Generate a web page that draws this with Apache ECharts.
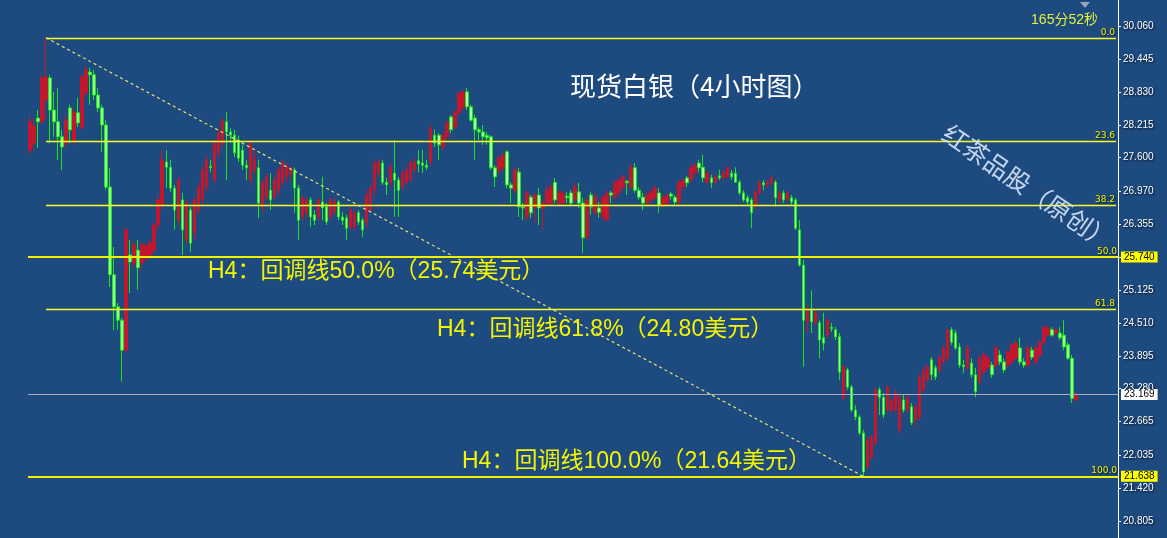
<!DOCTYPE html>
<html>
<head>
<meta charset="utf-8">
<script src="https://cdn.jsdelivr.net/npm/echarts@6/dist/echarts.min.js"></script>
<style>
html,body{margin:0;padding:0;background:#1d4a7f;}
#chart{width:1167px;height:538px;}
</style>
</head>
<body>
<div id="chart"></div>
<script>
// ---- data (4H silver candles) ----
const opens = [
27.74,27.87,28.34,28.27,28.68,29.09,28.49,28.27,27.99,27.87,
28.53,27.89,28.44,28.17,28.81,29.20,29.15,28.77,28.53,28.21,
27.05,25.41,24.81,24.56,24.00,25.78,25.63,25.87,25.63,25.72,
25.78,25.87,26.34,26.71,27.52,27.42,27.03,26.43,26.81,26.06,
26.62,26.19,26.62,26.81,27.05,27.44,27.18,27.69,27.87,28.27,
28.08,28.02,27.93,27.74,27.46,27.18,27.37,27.41,26.68,26.86,
26.99,26.86,26.99,27.13,27.24,27.28,27.37,27.03,26.49,26.57,
26.81,26.53,26.49,26.77,26.68,26.49,26.58,26.77,26.49,26.47,
26.30,26.30,26.57,26.43,26.38,26.62,26.99,27.31,27.50,27.14,
27.13,27.31,27.18,27.05,27.14,27.18,27.37,27.54,27.50,27.46,
27.52,28.02,28.02,27.80,27.99,28.36,28.17,28.44,28.53,28.83,
28.55,28.34,28.12,28.08,28.02,27.99,27.41,27.37,27.41,27.71,
27.09,26.99,27.33,26.68,26.49,26.86,26.66,26.90,26.66,26.75,
26.75,27.14,26.75,26.75,26.88,26.94,26.81,26.96,26.75,26.12,
26.90,26.57,26.66,26.49,26.43,26.94,26.86,26.94,27.05,27.16,
27.05,27.41,26.99,26.86,26.75,26.81,26.85,26.94,26.71,26.75,
26.92,26.86,26.77,27.05,27.22,27.18,27.31,27.50,27.42,27.14,
27.22,27.14,27.26,27.22,27.24,27.31,27.31,27.14,26.94,26.85,
26.81,26.68,26.94,27.13,27.09,27.13,27.14,26.81,26.94,26.81,
26.85,26.81,26.25,25.59,24.53,24.75,24.51,24.51,24.23,24.28,
24.43,24.38,24.25,23.10,23.63,23.31,22.88,22.75,22.45,21.82,
22.00,22.26,23.26,23.12,22.88,22.88,22.88,22.51,23.07,22.88,
22.94,22.69,22.75,23.26,23.44,23.82,23.67,23.63,23.78,23.85,
24.38,24.32,24.06,23.72,23.67,23.76,23.54,23.41,23.59,23.67,
23.72,23.72,23.91,23.78,23.72,23.78,23.85,24.04,23.78,23.72,
24.00,23.78,23.91,24.15,24.28,24.38,24.32,24.32,24.28,24.10,
23.85,23.07
];
const closes = [
28.27,28.19,28.27,29.09,29.11,28.49,28.27,27.99,27.80,28.30,
28.12,28.45,28.25,29.11,29.24,29.15,28.77,28.53,28.21,27.05,
25.41,24.81,24.56,24.00,26.25,25.65,25.97,25.54,25.97,25.95,
26.00,26.34,26.81,27.56,27.42,27.03,26.62,27.18,26.25,26.75,
26.00,26.81,27.05,27.37,27.56,27.41,27.87,28.06,28.30,28.08,
28.02,27.69,27.59,27.46,27.41,27.87,27.59,26.75,27.13,27.24,
26.81,27.18,27.37,27.50,27.42,27.42,27.03,26.43,26.85,26.81,
26.49,26.43,26.81,26.66,26.40,26.81,26.77,26.49,26.43,26.28,
26.62,26.57,26.40,26.25,26.90,27.03,27.50,27.52,27.14,27.09,
27.42,27.18,26.99,27.31,27.37,27.50,27.52,27.48,27.46,27.42,
28.15,27.87,27.84,28.02,28.25,28.12,28.45,28.81,28.83,28.55,
28.30,28.12,28.08,27.99,27.97,27.41,27.24,27.59,27.65,27.09,
27.03,27.37,26.68,26.66,26.94,26.57,26.90,26.66,26.75,26.99,
27.05,26.81,26.94,26.94,26.85,26.75,27.05,26.75,26.10,26.81,
26.68,26.86,26.58,26.86,26.94,26.90,27.13,27.18,27.24,27.13,
27.42,26.99,26.86,26.75,26.90,26.96,27.03,26.71,26.86,26.90,
26.88,26.77,27.13,27.18,27.13,27.41,27.46,27.41,27.22,27.31,
27.13,27.24,27.22,27.33,27.41,27.24,27.14,26.94,26.81,26.77,
26.57,26.96,27.13,27.09,27.14,27.22,26.85,26.94,26.81,26.94,
26.77,26.28,25.59,24.56,24.75,24.53,24.70,24.19,24.13,24.56,
24.40,24.25,23.59,23.69,23.31,22.88,22.75,22.45,21.72,22.32,
22.38,23.26,23.12,22.79,23.31,23.07,23.20,23.12,22.88,23.12,
22.64,22.94,23.50,23.63,23.69,23.54,23.50,23.87,24.04,24.38,
24.15,24.04,23.72,23.69,24.04,23.54,23.22,23.85,23.91,23.85,
23.54,24.04,23.78,23.63,23.97,24.10,24.13,23.78,23.72,24.04,
23.87,24.04,24.15,24.43,24.41,24.28,24.38,24.23,24.06,23.85,
23.10,23.169
];
const lows = [
27.65,27.74,27.78,28.21,28.30,27.87,27.99,27.56,27.37,27.78,
27.87,27.84,28.17,28.12,28.73,28.59,28.68,28.45,27.71,27.00,
25.18,24.38,24.38,23.41,23.97,25.07,25.54,25.13,25.50,25.65,
25.69,25.78,26.25,26.62,27.03,26.96,26.25,26.34,25.78,25.97,
25.84,26.06,26.53,26.71,26.96,27.33,27.09,27.61,27.80,27.18,
27.89,27.61,27.52,27.37,27.18,27.09,27.28,26.47,26.58,26.81,
26.62,26.81,26.90,27.05,27.14,27.18,26.57,26.06,26.43,26.47,
26.30,26.34,26.43,26.43,26.34,26.43,26.53,26.43,26.34,26.06,
26.25,26.25,26.34,26.12,26.28,26.58,26.90,27.24,27.09,26.90,
27.05,26.49,26.49,26.99,27.09,27.13,27.31,27.33,27.31,27.37,
27.46,27.80,27.56,27.74,27.93,28.06,28.12,28.40,28.49,28.49,
28.27,27.56,27.93,27.84,27.84,27.37,27.05,27.28,27.33,27.03,
26.75,26.94,26.49,26.43,26.43,26.47,26.38,26.34,26.25,26.70,
26.71,26.75,26.70,26.70,26.75,26.71,26.75,26.66,25.82,26.06,
26.53,26.53,26.47,26.43,26.40,26.75,26.81,26.90,26.99,26.90,
26.99,26.94,26.81,26.62,26.71,26.75,26.81,26.57,26.66,26.71,
26.81,26.71,26.71,26.99,27.05,27.13,27.28,27.33,27.14,27.09,
27.03,27.09,27.18,27.18,27.22,27.18,27.13,26.90,26.77,26.71,
26.28,26.62,26.90,26.99,27.03,27.09,26.68,26.75,26.75,26.77,
26.71,26.25,25.56,23.69,24.32,24.32,24.47,23.85,24.00,24.23,
24.34,24.19,23.44,23.07,23.26,22.84,22.69,22.41,21.638,21.76,
21.95,22.21,22.79,22.73,22.83,22.84,22.83,22.45,22.83,22.83,
22.60,22.56,22.69,23.22,23.41,23.44,23.44,23.57,23.72,23.82,
24.10,24.00,23.67,23.57,23.63,23.48,23.12,23.35,23.54,23.63,
23.48,23.67,23.72,23.57,23.67,23.72,23.82,23.72,23.67,23.67,
23.82,23.72,23.85,24.10,24.25,24.25,24.28,24.19,24.00,23.82,
23.01,23.03
];
const highs = [
28.40,28.34,28.49,29.15,29.842,29.15,28.83,28.90,28.12,28.40,
28.59,28.53,28.72,29.15,29.31,29.28,29.24,28.90,28.59,28.30,
27.41,25.93,24.88,24.60,26.28,26.06,26.06,26.06,26.02,26.00,
26.06,26.40,26.90,27.74,27.74,27.56,27.09,27.24,26.94,26.81,
26.68,26.86,27.13,27.46,27.65,27.56,27.93,28.12,28.34,28.45,
28.15,28.12,28.01,27.84,27.56,27.93,27.74,27.56,27.18,27.31,
27.31,27.24,27.42,27.56,27.52,27.46,27.42,27.09,26.90,26.86,
26.86,26.62,26.86,27.24,26.75,26.86,26.85,26.81,26.58,26.53,
26.68,26.62,26.62,26.47,26.99,27.09,27.56,27.59,27.56,27.22,
27.50,27.93,27.24,27.37,27.42,27.56,27.59,27.74,27.74,27.56,
28.21,28.12,28.06,28.06,28.30,28.40,28.49,28.83,28.86,28.90,
28.59,28.40,28.17,28.21,28.08,28.02,27.46,27.65,27.71,27.74,
27.14,27.42,27.41,26.75,26.99,26.90,26.94,27.03,26.81,27.09,
27.13,27.22,26.99,26.99,26.96,26.99,27.13,27.13,26.85,26.86,
26.96,26.94,26.77,26.90,26.99,26.98,27.18,27.22,27.28,27.18,
27.50,27.50,27.05,26.94,26.96,27.03,27.09,27.03,26.90,26.94,
26.96,26.90,27.18,27.22,27.26,27.46,27.52,27.56,27.65,27.37,
27.28,27.28,27.37,27.37,27.46,27.37,27.42,27.18,26.99,26.90,
26.85,26.99,27.18,27.18,27.18,27.26,27.18,26.99,26.99,26.99,
26.90,26.85,26.43,25.69,24.84,25.12,24.75,24.56,24.70,24.62,
24.51,24.43,24.32,23.72,23.67,23.35,22.97,22.79,22.51,22.38,
22.41,23.29,23.31,23.20,23.35,23.10,23.26,23.16,23.16,23.16,
23.01,22.97,23.54,23.69,23.72,23.87,23.72,23.91,24.10,24.41,
24.43,24.38,24.13,23.82,24.10,23.85,23.67,23.91,23.97,23.91,
23.78,24.10,24.00,23.85,24.00,24.13,24.19,24.23,23.85,24.10,
24.06,24.10,24.19,24.47,24.47,24.43,24.41,24.43,24.56,24.15,
23.91,23.22
];
const tickValues = [30.060,29.445,28.830,28.215,27.600,26.970,26.355,25.740,25.125,24.510,23.895,23.280,22.665,22.035,21.420,20.805];
const fibLevels = [29.842,27.906,26.708,25.740,24.772,21.638];
const fibNames  = ['0.0','23.6','38.2','50.0','61.8','100.0'];
const boxedLevels = [25.740,21.638];
const lastPrice = 23.169;
const swingHighIndex = 4;
const swingLowIndex = 208;
const titleText = '现货白银（4小时图）';
const noteTexts = ['H4：回调线50.0%（25.74美元）','H4：回调线61.8%（24.80美元）','H4：回调线100.0%（21.64美元）'];
const watermarkText = '红茶品股（原创）';
const timerText = '165分52秒';

// ---- chart ----
const candles = opens.map((o, i) => [o, closes[i], lows[i], highs[i]]);
const Y_MIN = 20.487, Y_MAX = 30.548;
const EMPTY_SLOTS = 10;
const SLOT_COUNT = candles.length + EMPTY_SLOTS;
const slots = Array.from({length: SLOT_COUNT}, (_, i) => 'bar' + i);
const LAST_SLOT = SLOT_COUNT - 1;

const YELLOW = '#f2f200';
const shadow = {textShadowColor:'rgba(0,0,0,0.75)', textShadowBlur:2, textShadowOffsetX:1, textShadowOffsetY:1};

const markData = [];
fibLevels.forEach((lvl, k) => {
  const thick = (fibNames[k] === '50.0' || fibNames[k] === '100.0');
  const lab = {show:true, position:'insideEndTop', formatter: fibNames[k], color: YELLOW, fontSize:9,
               fontFamily:'DejaVu Sans', distance:[1,1], ...shadow};
  if (thick) {
    markData.push({yAxis: lvl, lineStyle:{color:YELLOW, width:2, type:'solid'}, label: lab});
  } else {
    markData.push([
      {coord:[swingHighIndex, lvl], lineStyle:{color:'#ffff20', width:1.4, type:'solid'}, label: lab},
      {coord:[LAST_SLOT, lvl]}
    ]);
  }
});
// trend line from swing high to swing low
markData.push([
  {coord:[swingHighIndex, highs[swingHighIndex]], lineStyle:{color:'#f8f070', width:1.1, type:[3,3]}, label:{show:false}},
  {coord:[swingLowIndex, lows[swingLowIndex]]}
]);
// current price line
markData.push({yAxis:lastPrice, lineStyle:{color:'#a7aebb', width:1, type:'solid'},
  label:{show:true, position:'end', distance:3, formatter: lastPrice.toFixed(3), color:'#000', backgroundColor:'#ffffff',
         padding:[1,3,0,3], fontSize:10, fontFamily:'Liberation Sans'}});
// boxed level prices on the axis
boxedLevels.forEach(v => {
  markData.push({yAxis:v, lineStyle:{color:YELLOW, width:2, type:'solid'},
    label:{show:true, position:'end', distance:3, formatter: v.toFixed(3), color:'#000', backgroundColor:'#ffff00',
           padding:[1,3,0,3], fontSize:10, fontFamily:'Liberation Sans'}});
});

const noteStyle = (t) => ({text:t, fill:'#f5f500', font:'23px "Liberation Sans","Noto Sans CJK SC"',
  verticalAlign:'middle', align:'left', shadowColor:'rgba(0,0,0,0.8)', shadowBlur:2, shadowOffsetX:2, shadowOffsetY:2});

const chart = echarts.init(document.getElementById('chart'), null, {renderer:'canvas'});
chart.setOption({
  animation:false,
  backgroundColor:'#1d4a7f',
  grid:{left:28, right:49, top:0, bottom:0},
  xAxis:{type:'category', data: slots, show:false, boundaryGap:true},
  yAxis:{
    type:'value', position:'right', min:Y_MIN, max:Y_MAX, scale:true,
    splitLine:{show:false},
    axisLine:{show:true, lineStyle:{color:'#ffffff', width:1}},
    axisTick:{show:true, customValues: tickValues, length:3, inside:false, lineStyle:{color:'#ffffff'}},
    axisLabel:{show:true, customValues: tickValues, formatter:(v)=>v.toFixed(3), color:'#ffffff',
               fontSize:10, fontFamily:'Liberation Sans', margin:5, ...shadow}
  },
  series:[{
    type:'candlestick',
    data:candles,
    barWidth:3,
    itemStyle:{color:'#c3162f', color0:'#a6ffa6', borderColor:'#c3162f', borderColor0:'#19e619', borderWidth:1},
    markLine:{silent:true, symbol:['none','none'], animation:false, data:markData}
  }],
  graphic:[
    {type:'text', x:570, y:86, z:10, style:{text:titleText, fill:'#ffffff', font:'26px "Noto Sans CJK SC"',
      verticalAlign:'middle', align:'left', shadowColor:'rgba(0,0,0,0.7)', shadowBlur:2, shadowOffsetX:1, shadowOffsetY:1}},
    {type:'text', x:208, y:272, z:10, style:noteStyle(noteTexts[0])},
    {type:'text', x:437, y:330, z:10, style:noteStyle(noteTexts[1])},
    {type:'text', x:462, y:462, z:10, style:noteStyle(noteTexts[2])},
    {type:'text', x:1028, y:187, rotation:-0.6, z:10, style:{text:watermarkText, fill:'rgba(215,230,250,0.9)',
      font:'25px "Noto Sans CJK SC"', align:'center', verticalAlign:'middle',
      shadowColor:'rgba(0,0,0,0.8)', shadowBlur:3, shadowOffsetX:2, shadowOffsetY:2}},
    {type:'text', x:1098, y:20, z:10, style:{text:timerText, fill:'#e4f040', font:'14px "Liberation Sans","Noto Sans CJK SC"',
      align:'right', verticalAlign:'middle', shadowColor:'rgba(0,0,0,0.7)', shadowBlur:1, shadowOffsetX:1, shadowOffsetY:1}},
    {type:'polygon', z:10, shape:{points:[[1080,2],[1090,2],[1085,8]]}, style:{fill:'#9aa6b8'}}
  ]
});
</script>
</body>
</html>
